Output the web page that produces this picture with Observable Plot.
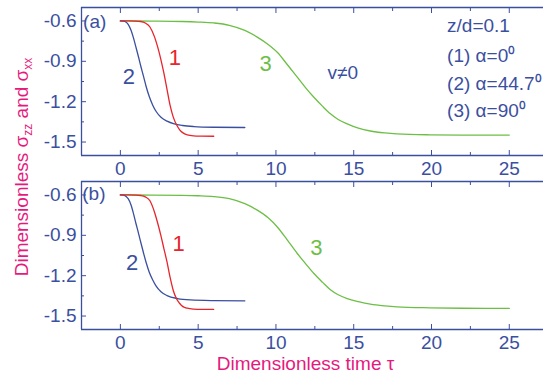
<!DOCTYPE html>
<html>
<head>
<meta charset="utf-8">
<script src="https://cdn.jsdelivr.net/npm/d3@7"></script>
<script src="https://cdn.jsdelivr.net/npm/@observablehq/plot@0.6"></script>
<style>
  body { margin: 0; background: #fff; }
  #wrap { position: relative; width: 543px; height: 376px; overflow: hidden; font-family: "Liberation Sans", Arial, sans-serif; }
  #wrap svg { display: block; }
  #ylab { position: absolute; left: 21px; top: 167px; transform: translate(-50%, -50%) rotate(-90deg); white-space: nowrap; color: #e6197d; font-size: 19px; line-height: 1; }
  #ylab sub { font-size: 12px; vertical-align: -4px; line-height: 0; }
</style>
</head>
<body>
<div id="wrap"><div id="ylab">Dimensionless σ<sub>zz</sub> and σ<sub>xx</sub></div></div>
<script>
// ---- data ----
const xTicks = [0, 5, 10, 15, 20, 25];
const xMinor = [2.5, 7.5, 12.5, 17.5, 22.5];
const yTicks = [-0.6, -0.9, -1.2, -1.5];
const yMinor = [-0.75, -1.05, -1.35];

// panel (a)
const a1T = [0, 0.5, 1.0, 1.3, 1.6, 1.9, 2.2, 2.4, 2.6, 2.8, 3.0, 3.2, 3.4, 3.6, 3.8, 4.0, 4.3, 4.7, 5.2, 6.0];
const a1V = [-0.6, -0.6, -0.601, -0.604, -0.615, -0.645, -0.72, -0.795, -0.885, -0.99, -1.11, -1.23, -1.315, -1.37, -1.407, -1.43, -1.447, -1.454, -1.456, -1.457];
const a2T = [0, 0.2, 0.37, 0.5, 0.69, 0.85, 1.0, 1.17, 1.33, 1.5, 1.65, 1.85, 2.08, 2.3, 2.61, 3.0, 3.46, 4.0, 4.74, 6.0, 8.0];
const a2V = [-0.6, -0.602, -0.609, -0.625, -0.671, -0.73, -0.795, -0.87, -0.944, -1.018, -1.085, -1.16, -1.226, -1.273, -1.316, -1.345, -1.365, -1.377, -1.385, -1.39, -1.392];
const a3T = [0, 2, 4, 5, 6, 7, 8, 8.8, 9.5, 10.1, 10.7, 11.37, 11.9, 12.44, 13.0, 13.5, 14.0, 14.58, 15.3, 16.07, 17, 17.78, 19.9, 22, 25];
const a3V = [-0.6, -0.601, -0.604, -0.608, -0.615, -0.632, -0.67, -0.72, -0.775, -0.835, -0.92, -1.018, -1.095, -1.167, -1.235, -1.29, -1.332, -1.365, -1.397, -1.418, -1.432, -1.439, -1.446, -1.448, -1.448];

// panel (b)
const b1T = [0, 0.5, 1.0, 1.3, 1.6, 1.9, 2.2, 2.4, 2.6, 2.8, 3.0, 3.2, 3.4, 3.6, 3.8, 4.0, 4.3, 4.7, 5.2, 6.0];
const b1V = [-0.6, -0.6, -0.601, -0.604, -0.614, -0.643, -0.73, -0.81, -0.9, -1.0, -1.1, -1.215, -1.31, -1.37, -1.405, -1.428, -1.442, -1.448, -1.45, -1.45];
const b2T = [0, 0.2, 0.37, 0.5, 0.69, 0.85, 1.0, 1.17, 1.33, 1.5, 1.65, 1.85, 2.08, 2.3, 2.61, 3.0, 3.68, 4.5, 6.0, 8.0];
const b2V = [-0.6, -0.602, -0.611, -0.628, -0.676, -0.742, -0.812, -0.887, -0.961, -1.037, -1.1, -1.172, -1.232, -1.278, -1.32, -1.348, -1.37, -1.38, -1.385, -1.387];
const b3T = [0, 2, 4, 5, 6, 7, 8, 8.8, 9.5, 10.1, 10.7, 11.37, 11.9, 12.44, 13.0, 13.5, 14.0, 14.58, 15.3, 16.07, 17, 17.78, 19.9, 22, 25];
const b3V = [-0.6, -0.601, -0.603, -0.606, -0.612, -0.628, -0.665, -0.713, -0.77, -0.84, -0.93, -1.035, -1.11, -1.184, -1.25, -1.305, -1.342, -1.37, -1.393, -1.412, -1.425, -1.432, -1.439, -1.442, -1.443];

const legendLines = ["z/d=0.1", "(1) α=0⁰", "(2) α=44.7⁰", "(3) α=90⁰"];
const xTitle = "Dimensionless time τ";

// ---- styling ----
const BLUE = "#3b4f9f", RED = "#e8242c", GREEN = "#6cbf45", PINK = "#e6197d";
const xDomain = [-2.5, 27.2];
const yDomain = [-1.6, -0.5];

const zip = (T, V) => T.map((t, i) => ({t, v: V[i]}));

function frameMarks() {
  return [
    Plot.ruleX([xDomain[0]], {stroke: BLUE, strokeWidth: 1.3}),
    Plot.ruleY(yDomain, {stroke: BLUE, strokeWidth: 1.3}),
    Plot.axisY({ticks: yTicks, tickSize: 0, tickPadding: 5, tickFormat: d => d.toFixed(1), label: null, fill: BLUE}),
    Plot.axisY({ticks: yTicks, tickSize: -5, tickPadding: 0, tickFormat: () => "", label: null, stroke: BLUE}),
    Plot.axisY({ticks: yMinor, tickSize: -3, tickPadding: 0, tickFormat: () => "", label: null, stroke: BLUE}),
    Plot.axisX({ticks: xTicks, tickSize: 0, tickPadding: 6, tickFormat: d => String(d), label: null, fill: BLUE}),
    Plot.axisX({ticks: xTicks, tickSize: -5, tickFormat: () => "", label: null, stroke: BLUE}),
    Plot.axisX({ticks: xMinor, tickSize: -3, tickFormat: () => "", label: null, stroke: BLUE}),
    Plot.axisX({anchor: "top", ticks: xTicks, tickSize: -5, tickFormat: () => "", label: null, stroke: BLUE}),
    Plot.axisX({anchor: "top", ticks: xMinor, tickSize: -3, tickFormat: () => "", label: null, stroke: BLUE})
  ];
}

function curves(c1, c2, c3) {
  const o = {x: "t", y: "v", strokeWidth: 1.3, curve: "monotone-x"};
  return [
    Plot.line(c3, {...o, stroke: GREEN}),
    Plot.line(c2, {...o, stroke: BLUE}),
    Plot.line(c1, {...o, stroke: RED})
  ];
}

const common = {
  width: 543, marginLeft: 81, marginRight: 0,
  x: {domain: xDomain, label: null},
  y: {domain: yDomain, label: null},
  style: {fontSize: "19px", fontFamily: "'Liberation Sans', Arial, sans-serif", color: BLUE, background: "transparent", overflow: "visible"}
};

const plotA = Plot.plot({
  ...common,
  height: 180, marginTop: 7, marginBottom: 25,
  marks: [
    ...frameMarks(),
    ...curves(zip(a1T, a1V), zip(a2T, a2V), zip(a3T, a3V)),
    Plot.text(["(a)"], {x: -2.4, y: -0.61, text: d => d, textAnchor: "start", fill: BLUE, fontSize: 19}),
    Plot.text(["1"], {x: 3.5, y: -0.877, text: d => d, fill: RED, fontSize: 22}),
    Plot.text(["2"], {x: 0.54, y: -1.018, text: d => d, fill: BLUE, fontSize: 22}),
    Plot.text(["3"], {x: 9.33, y: -0.919, text: d => d, fill: GREEN, fontSize: 22}),
    Plot.text(["v≠0"], {x: 14.3, y: -0.983, text: d => d, fill: BLUE, fontSize: 19}),
    Plot.text(legendLines, {x: 21.0, y: (d, i) => [-0.634, -0.857, -1.065, -1.265][i], text: d => d, textAnchor: "start", fill: BLUE, fontSize: 19})
  ]
});

const plotB = Plot.plot({
  ...common,
  height: 196, marginTop: 1, marginBottom: 47,
  marks: [
    ...frameMarks(),
    ...curves(zip(b1T, b1V), zip(b2T, b2V), zip(b3T, b3V)),
    Plot.text(["(b)"], {x: -2.45, y: -0.591, text: d => d, textAnchor: "start", fill: BLUE, fontSize: 19}),
    Plot.text(["1"], {x: 3.75, y: -0.961, text: d => d, fill: RED, fontSize: 22}),
    Plot.text(["2"], {x: 0.76, y: -1.105, text: d => d, fill: BLUE, fontSize: 22}),
    Plot.text(["3"], {x: 12.6, y: -0.991, text: d => d, fill: GREEN, fontSize: 22}),
    Plot.text([xTitle], {frameAnchor: "bottom", lineAnchor: "middle", dy: 34, dx: -7, text: d => d, fill: PINK, fontSize: 19})
  ]
});

const wrap = document.getElementById("wrap");
wrap.appendChild(plotA);
wrap.appendChild(plotB);
</script>
</body>
</html>
